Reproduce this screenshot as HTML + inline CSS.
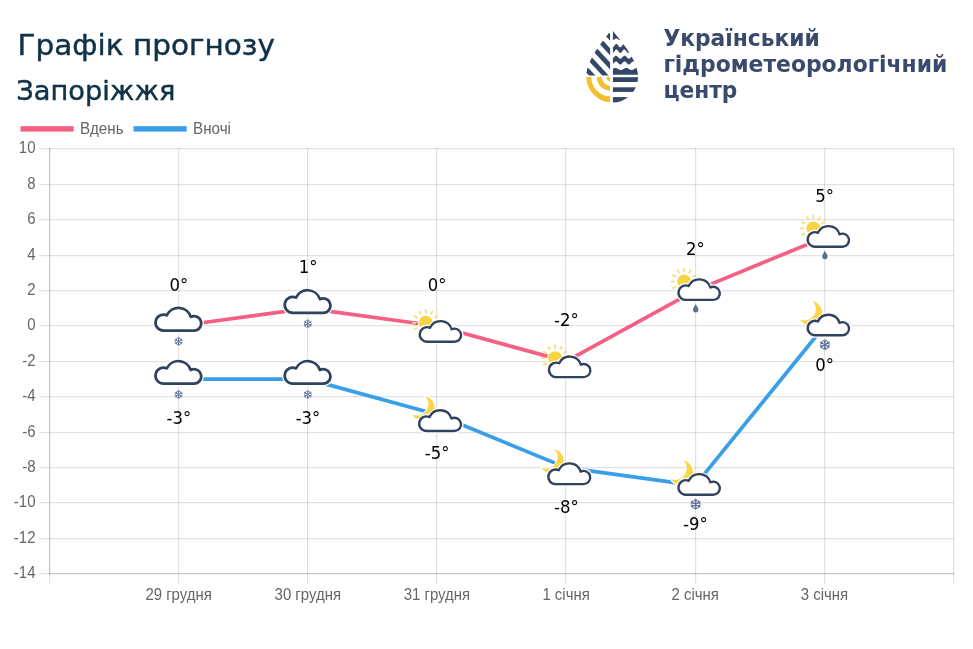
<!DOCTYPE html>
<html lang="uk"><head><meta charset="utf-8"><title>Графік прогнозу</title>
<style>html,body{margin:0;padding:0;background:#fff}body{width:973px;height:649px;position:relative;overflow:hidden}</style></head>
<body>
<svg width="973" height="649" viewBox="0 0 973 649" style="position:absolute;left:0;top:0">
<defs>
<path id="cp" d="M9.30 24.2 A8.0 8.0 0 1 1 12.60 8.91 A12.85 12.85 0 0 1 36.50 10.50 A7.24 7.24 0 1 1 39.76 24.2 Z" stroke-linejoin="round"/>
<g id="cl" fill="#fff"><use href="#cp" stroke="#fff" stroke-width="5.1"/><use href="#cp" stroke="#31425e" stroke-width="2.7"/></g>
<g id="cs" fill="#fff"><use href="#cp" stroke="#fff" stroke-width="5.4"/><use href="#cp" stroke="#31425e" stroke-width="2.6"/></g>
<g id="sn" stroke="#566c98" stroke-width="1.05" stroke-linecap="round" fill="none">
<path d="M0 -4.6V4.6M-4 -2.3L4 2.3M-4 2.3L4 -2.3"/>
<path d="M-1.4 -3.9L0 -2.8L1.4 -3.9M-1.4 3.9L0 2.8L1.4 3.9M-4.1 -0.7L-2.4 -1.4L-2.7 -3.2M4.1 -0.7L2.4 -1.4L2.7 -3.2M-4.1 0.7L-2.4 1.4L-2.7 3.2M4.1 0.7L2.4 1.4L2.7 3.2"/>
</g>
<path id="dr" d="M0 -4.2C1.2 -2.2 2.7 -0.4 2.7 1.4A2.7 2.7 0 0 1 -2.7 1.4C-2.7 -0.4 -1.2 -2.2 0 -4.2Z" fill="#5b6f90"/>
<g id="sun">
<g stroke="#f2df80" stroke-width="1.8" stroke-linecap="round">
<path d="M10.30 -0.00L13.00 -0.00"/><path d="M8.92 -5.15L11.26 -6.50"/><path d="M5.15 -8.92L6.50 -11.26"/><path d="M0.00 -10.30L0.00 -13.00"/><path d="M-5.15 -8.92L-6.50 -11.26"/><path d="M-8.92 -5.15L-11.26 -6.50"/><path d="M-10.30 -0.00L-13.00 -0.00"/><path d="M-8.92 5.15L-11.26 6.50"/><path d="M-5.15 8.92L-6.50 11.26"/><path d="M-0.00 10.30L-0.00 13.00"/><path d="M5.15 8.92L6.50 11.26"/><path d="M8.92 5.15L11.26 6.50"/>
</g>
<circle r="8.1" fill="#fff"/><circle r="7" fill="#f6d443"/>
</g>
<path id="moon" d="M2.8 -11.85A12.2 12.2 0 1 1 -10.2 6.65A11.5 11.5 0 0 0 2.8 -11.85Z" fill="#f9d548" stroke="#fff" stroke-width="2" paint-order="stroke" stroke-linejoin="round"/>
</defs>
<g fill="#000" fill-opacity="0.115"><rect x="39.2" y="148" width="914.9" height="1.216"/><rect x="39.2" y="184" width="914.9" height="1.216"/><rect x="39.2" y="219" width="914.9" height="1.216"/><rect x="39.2" y="255" width="914.9" height="1.216"/><rect x="39.2" y="290" width="914.9" height="1.216"/><rect x="39.2" y="325" width="914.9" height="1.216"/><rect x="39.2" y="361" width="914.9" height="1.216"/><rect x="39.2" y="396" width="914.9" height="1.216"/><rect x="39.2" y="432" width="914.9" height="1.216"/><rect x="39.2" y="467" width="914.9" height="1.216"/><rect x="39.2" y="502" width="914.9" height="1.216"/><rect x="39.2" y="538" width="914.9" height="1.216"/><rect x="39.2" y="573" width="914.9" height="1.216"/><rect x="49" y="148" width="1.216" height="435.8"/><rect x="178" y="148" width="1.216" height="435.8"/><rect x="307" y="148" width="1.216" height="435.8"/><rect x="436" y="148" width="1.216" height="435.8"/><rect x="565" y="148" width="1.216" height="435.8"/><rect x="695" y="148" width="1.216" height="435.8"/><rect x="824" y="148" width="1.216" height="435.8"/><rect x="953" y="148" width="1.216" height="435.8"/></g>
<g fill="#000" fill-opacity="0.13"><rect x="49" y="148" width="1.216" height="426.22"/><rect x="49" y="573" width="905.22" height="1.216"/></g>
<g font-family="'Liberation Sans', Arial, sans-serif" font-size="15.2" fill="#666"><text transform="translate(35.5 153.0) scale(0.985 1.05)" text-anchor="end">10</text><text transform="translate(35.5 189.0) scale(0.985 1.05)" text-anchor="end">8</text><text transform="translate(35.5 224.0) scale(0.985 1.05)" text-anchor="end">6</text><text transform="translate(35.5 260.0) scale(0.985 1.05)" text-anchor="end">4</text><text transform="translate(35.5 295.0) scale(0.985 1.05)" text-anchor="end">2</text><text transform="translate(35.5 330.0) scale(0.985 1.05)" text-anchor="end">0</text><text transform="translate(35.5 366.0) scale(0.985 1.05)" text-anchor="end">-2</text><text transform="translate(35.5 401.0) scale(0.985 1.05)" text-anchor="end">-4</text><text transform="translate(35.5 437.0) scale(0.985 1.05)" text-anchor="end">-6</text><text transform="translate(35.5 472.0) scale(0.985 1.05)" text-anchor="end">-8</text><text transform="translate(35.5 507.0) scale(0.985 1.05)" text-anchor="end">-10</text><text transform="translate(35.5 543.0) scale(0.985 1.05)" text-anchor="end">-12</text><text transform="translate(35.5 578.0) scale(0.985 1.05)" text-anchor="end">-14</text>
<text transform="translate(178.6 600.1) scale(0.985 1.03)" text-anchor="middle">29 грудня</text>
<text transform="translate(307.8 600.1) scale(0.985 1.03)" text-anchor="middle">30 грудня</text>
<text transform="translate(436.9 600.1) scale(0.985 1.03)" text-anchor="middle">31 грудня</text>
<text transform="translate(566.1 600.1) scale(0.985 1.03)" text-anchor="middle">1 січня</text>
<text transform="translate(695.2 600.1) scale(0.985 1.03)" text-anchor="middle">2 січня</text>
<text transform="translate(824.4 600.1) scale(0.985 1.03)" text-anchor="middle">3 січня</text>
<text transform="translate(80 133.7) scale(1 1.05)">Вдень</text><text transform="translate(193 133.7) scale(1 1.05)">Вночі</text>
</g>
<rect x="20.5" y="126.2" width="53.2" height="5.4" fill="#f45f84"/><rect x="133.5" y="126.2" width="53.2" height="5.4" fill="#389fe8"/>
<polyline points="178.6,379.1 307.8,379.1 436.9,414.5 566.1,467.6 695.2,485.4 824.4,326.0" fill="none" stroke="#389fe8" stroke-width="3.7" stroke-linejoin="round"/>
<polyline points="178.6,326.0 307.8,308.3 436.9,326.0 566.1,361.4 695.2,290.6 824.4,237.4" fill="none" stroke="#f45f84" stroke-width="3.7" stroke-linejoin="round"/>
<use href="#cl" x="154.2" y="359.5"/><use href="#sn" transform="translate(178.6 394.5) scale(0.85)"/>
<use href="#cl" x="283.4" y="359.5"/><use href="#sn" transform="translate(307.8 394.5) scale(0.85)"/>
<use href="#moon" x="422.4" y="407.9"/><g transform="translate(418.0 408.9) scale(0.915)"><use href="#cs"/></g>
<use href="#moon" x="551.6" y="461.0"/><g transform="translate(547.2 462.0) scale(0.915)"><use href="#cs"/></g>
<use href="#moon" x="680.7" y="472.2"/><g transform="translate(677.3 472.8) scale(0.905)"><use href="#cs"/></g><use href="#sn" transform="translate(695.7 504.2) scale(1.08)"/>
<use href="#moon" x="809.9" y="312.8"/><g transform="translate(806.5 313.4) scale(0.905)"><use href="#cs"/></g><use href="#sn" transform="translate(824.9 344.8) scale(1.08)"/>
<use href="#cl" x="154.2" y="306.4"/><use href="#sn" transform="translate(178.6 341.4) scale(0.85)"/>
<use href="#cl" x="283.4" y="288.7"/><use href="#sn" transform="translate(307.8 323.7) scale(0.85)"/>
<use href="#sun" x="425.9" y="322.8"/><g transform="translate(418.6 319.8) scale(0.905)"><use href="#cs"/></g>
<use href="#sun" x="555.1" y="358.2"/><g transform="translate(547.8 355.2) scale(0.905)"><use href="#cs"/></g>
<use href="#sun" x="684.2" y="281.6"/><g transform="translate(677.3 278.0) scale(0.905)"><use href="#cs"/></g><use href="#dr" x="695.7" y="308.4"/>
<use href="#sun" x="813.4" y="228.4"/><g transform="translate(806.5 224.8) scale(0.905)"><use href="#cs"/></g><use href="#dr" x="824.9" y="255.2"/>
<g font-family="'DejaVu Sans', 'Liberation Sans', sans-serif" font-size="17" fill="#000" text-anchor="middle">
<text transform="translate(178.8 290.8) scale(0.97 1)">0°</text>
<text transform="translate(178.8 424.0) scale(0.97 1)">-3°</text>
<text transform="translate(308.0 273.1) scale(0.97 1)">1°</text>
<text transform="translate(308.0 424.0) scale(0.97 1)">-3°</text>
<text transform="translate(437.1 290.8) scale(0.97 1)">0°</text>
<text transform="translate(437.1 459.4) scale(0.97 1)">-5°</text>
<text transform="translate(566.3 326.2) scale(0.97 1)">-2°</text>
<text transform="translate(566.3 512.5) scale(0.97 1)">-8°</text>
<text transform="translate(695.4 255.4) scale(0.97 1)">2°</text>
<text transform="translate(695.4 530.3) scale(0.97 1)">-9°</text>
<text transform="translate(824.6 202.2) scale(0.97 1)">5°</text>
<text transform="translate(824.6 370.9) scale(0.97 1)">0°</text>
</g>
<g font-family="'DejaVu Sans', 'Liberation Sans', sans-serif" fill="#0f3248" stroke="#0f3248" stroke-width="0.45" stroke-linejoin="round">
<text x="17.5" y="54.6" font-size="28.8" textLength="257.4" lengthAdjust="spacingAndGlyphs">Графік прогнозу</text>
<text x="16.2" y="100.2" font-size="26.6" textLength="159.2" lengthAdjust="spacingAndGlyphs">Запоріжжя</text>
</g>
<g font-family="'DejaVu Sans', 'Liberation Sans', sans-serif" font-weight="bold" font-size="22.3" fill="#3a4a6c">
<text x="663.4" y="45.9" textLength="156.5" lengthAdjust="spacingAndGlyphs">Український</text>
<text x="663.4" y="72.2" textLength="284" lengthAdjust="spacingAndGlyphs">гідрометеорологічний</text>
<text x="663.4" y="98" textLength="74" lengthAdjust="spacingAndGlyphs">центр</text>
</g>
<clipPath id="dp"><path d="M611.6 29.3C617 37 638.1 58 638.1 77A25.9 25.6 0 0 1 586.3 77C586.3 58 606.6 37 611.6 29.3Z"/></clipPath><clipPath id="q1"><rect x="580" y="25" width="30.100000000000023" height="50.6"/></clipPath><clipPath id="q2"><rect x="580" y="77" width="30.100000000000023" height="30"/></clipPath><clipPath id="q3"><rect x="612.7" y="25" width="30" height="80"/></clipPath><g clip-path="url(#dp)"><g clip-path="url(#q1)" stroke="#344766" stroke-width="4.7" fill="none"><path d="M615.1 42.6L565.1 -11.4"/><path d="M615.1 57.1L565.1 3.1"/><path d="M615.1 71.5L565.1 17.5"/><path d="M615.1 85.9L565.1 31.9"/><path d="M615.1 100.3L565.1 46.3"/><path d="M615.1 114.7L565.1 60.7"/></g><g clip-path="url(#q2)" fill="none" stroke="#f4c02f"><circle cx="610.6" cy="77" r="2.2" stroke-width="4.4"/><circle cx="610.6" cy="77" r="11.3" stroke-width="5"/><circle cx="610.6" cy="77" r="22.3" stroke-width="6"/></g><g clip-path="url(#q3)" fill="#344766"><path d="M612.7 25.0L642.0 25.0L642.0 39.9L641.6 39.7L641.3 39.4L640.9 39.2L640.5 38.9L640.2 38.7L639.8 38.5L639.4 38.4L639.1 38.4L638.7 38.5L638.3 38.6L638.0 38.8L637.6 39.1L637.2 39.3L636.9 39.6L636.5 39.8L636.1 40.0L635.8 40.2L635.4 40.2L635.0 40.2L634.7 40.0L634.3 39.9L633.9 39.6L633.6 39.4L633.2 39.1L632.8 38.8L632.5 38.6L632.1 38.5L631.7 38.4L631.4 38.4L631.0 38.5L630.6 38.7L630.3 38.9L629.9 39.1L629.5 39.4L629.2 39.7L628.8 39.9L628.4 40.1L628.1 40.2L627.7 40.2L627.4 40.1L627.0 40.0L626.6 39.8L626.3 39.6L625.9 39.3L625.5 39.0L625.2 38.8L624.8 38.6L624.4 38.5L624.1 38.4L623.7 38.4L623.3 38.5L623.0 38.7L622.6 38.9L622.2 39.2L621.9 39.5L621.5 39.7L621.1 40.0L620.8 40.1L620.4 40.2L620.0 40.2L619.7 40.1L619.3 40.0L618.9 39.7L618.6 39.5L618.2 39.2L617.8 39.0L617.5 38.7L617.1 38.5L616.7 38.4L616.4 38.4L616.0 38.4L615.6 38.6L615.3 38.8L614.9 39.0L614.5 39.3L614.2 39.5L613.8 39.8L613.4 40.0L613.1 40.1L612.7 40.2Z"/><path d="M612.7 47.3L613.1 47.1L613.4 46.8L613.8 46.5L614.2 46.0L614.5 45.5L614.9 45.0L615.3 44.6L615.6 44.2L616.0 44.0L616.4 43.9L616.7 44.0L617.1 44.2L617.5 44.5L617.8 44.9L618.2 45.4L618.6 45.9L618.9 46.4L619.3 46.8L619.7 47.1L620.0 47.3L620.4 47.3L620.8 47.2L621.1 46.9L621.5 46.6L621.9 46.1L622.2 45.6L622.6 45.1L623.0 44.7L623.3 44.3L623.7 44.0L624.1 43.9L624.4 43.9L624.8 44.1L625.2 44.4L625.5 44.8L625.9 45.2L626.3 45.7L626.6 46.2L627.0 46.7L627.4 47.0L627.7 47.2L628.1 47.3L628.4 47.2L628.8 47.0L629.2 46.7L629.5 46.3L629.9 45.8L630.3 45.3L630.6 44.8L631.0 44.4L631.4 44.1L631.7 43.9L632.1 43.9L632.5 44.0L632.8 44.3L633.2 44.6L633.6 45.1L633.9 45.6L634.3 46.1L634.7 46.5L635.0 46.9L635.4 47.2L635.8 47.3L636.1 47.3L636.5 47.1L636.9 46.8L637.2 46.4L637.6 45.9L638.0 45.4L638.3 44.9L638.7 44.5L639.1 44.2L639.4 44.0L639.8 43.9L640.2 44.0L640.5 44.2L640.9 44.5L641.3 45.0L641.6 45.4L642.0 45.9L642.0 51.5L641.6 51.0L641.3 50.6L640.9 50.1L640.5 49.8L640.2 49.6L639.8 49.5L639.4 49.6L639.1 49.8L638.7 50.1L638.3 50.5L638.0 51.0L637.6 51.5L637.2 52.0L636.9 52.4L636.5 52.7L636.1 52.9L635.8 52.9L635.4 52.8L635.0 52.5L634.7 52.1L634.3 51.7L633.9 51.2L633.6 50.7L633.2 50.2L632.8 49.9L632.5 49.6L632.1 49.5L631.7 49.5L631.4 49.7L631.0 50.0L630.6 50.4L630.3 50.9L629.9 51.4L629.5 51.9L629.2 52.3L628.8 52.6L628.4 52.8L628.1 52.9L627.7 52.8L627.4 52.6L627.0 52.3L626.6 51.8L626.3 51.3L625.9 50.8L625.5 50.4L625.2 50.0L624.8 49.7L624.4 49.5L624.1 49.5L623.7 49.6L623.3 49.9L623.0 50.3L622.6 50.7L622.2 51.2L621.9 51.7L621.5 52.2L621.1 52.5L620.8 52.8L620.4 52.9L620.0 52.9L619.7 52.7L619.3 52.4L618.9 52.0L618.6 51.5L618.2 51.0L617.8 50.5L617.5 50.1L617.1 49.8L616.7 49.6L616.4 49.5L616.0 49.6L615.6 49.8L615.3 50.2L614.9 50.6L614.5 51.1L614.2 51.6L613.8 52.1L613.4 52.4L613.1 52.7L612.7 52.9Z"/><path d="M612.7 58.3L613.1 58.0L613.4 57.7L613.8 57.3L614.2 56.9L614.5 56.5L614.9 56.2L615.3 55.9L615.6 55.8L616.0 55.7L616.4 55.8L616.7 55.9L617.1 56.2L617.5 56.5L617.8 56.8L618.2 57.2L618.6 57.6L618.9 58.0L619.3 58.3L619.7 58.5L620.0 58.7L620.4 58.7L620.8 58.6L621.1 58.4L621.5 58.2L621.9 57.8L622.2 57.4L622.6 57.0L623.0 56.7L623.3 56.3L623.7 56.0L624.1 55.8L624.4 55.7L624.8 55.7L625.2 55.8L625.5 56.0L625.9 56.3L626.3 56.7L626.6 57.1L627.0 57.5L627.4 57.8L627.7 58.2L628.1 58.4L628.4 58.6L628.8 58.7L629.2 58.7L629.5 58.5L629.9 58.3L630.3 58.0L630.6 57.6L631.0 57.2L631.4 56.8L631.7 56.5L632.1 56.2L632.5 55.9L632.8 55.8L633.2 55.7L633.6 55.8L633.9 55.9L634.3 56.2L634.7 56.5L635.0 56.9L635.4 57.3L635.8 57.7L636.1 58.0L636.5 58.3L636.9 58.5L637.2 58.7L637.6 58.7L638.0 58.6L638.3 58.4L638.7 58.2L639.1 57.8L639.4 57.4L639.8 57.0L640.2 56.6L640.5 56.3L640.9 56.0L641.3 55.8L641.6 55.7L642.0 55.7L642.0 61.5L641.6 61.5L641.3 61.6L640.9 61.8L640.5 62.1L640.2 62.4L639.8 62.8L639.4 63.2L639.1 63.6L638.7 64.0L638.3 64.2L638.0 64.4L637.6 64.5L637.2 64.5L636.9 64.3L636.5 64.1L636.1 63.8L635.8 63.5L635.4 63.1L635.0 62.7L634.7 62.3L634.3 62.0L633.9 61.7L633.6 61.6L633.2 61.5L632.8 61.6L632.5 61.7L632.1 62.0L631.7 62.3L631.4 62.6L631.0 63.0L630.6 63.4L630.3 63.8L629.9 64.1L629.5 64.3L629.2 64.5L628.8 64.5L628.4 64.4L628.1 64.2L627.7 64.0L627.4 63.6L627.0 63.3L626.6 62.9L626.3 62.5L625.9 62.1L625.5 61.8L625.2 61.6L624.8 61.5L624.4 61.5L624.1 61.6L623.7 61.8L623.3 62.1L623.0 62.5L622.6 62.8L622.2 63.2L621.9 63.6L621.5 64.0L621.1 64.2L620.8 64.4L620.4 64.5L620.0 64.5L619.7 64.3L619.3 64.1L618.9 63.8L618.6 63.4L618.2 63.0L617.8 62.6L617.5 62.3L617.1 62.0L616.7 61.7L616.4 61.6L616.0 61.5L615.6 61.6L615.3 61.7L614.9 62.0L614.5 62.3L614.2 62.7L613.8 63.1L613.4 63.5L613.1 63.8L612.7 64.1Z"/><path d="M612.7 69.0L613.1 68.8L613.4 68.5L613.8 68.3L614.2 68.2L614.5 68.0L614.9 67.9L615.3 67.9L615.6 67.9L616.0 68.0L616.4 68.1L616.7 68.2L617.1 68.4L617.5 68.6L617.8 68.8L618.2 69.1L618.6 69.3L618.9 69.5L619.3 69.7L619.7 69.9L620.0 70.0L620.4 70.1L620.8 70.1L621.1 70.1L621.5 70.0L621.9 69.9L622.2 69.7L622.6 69.6L623.0 69.3L623.3 69.1L623.7 68.9L624.1 68.7L624.4 68.4L624.8 68.3L625.2 68.1L625.5 68.0L625.9 67.9L626.3 67.9L626.6 67.9L627.0 68.0L627.4 68.1L627.7 68.3L628.1 68.5L628.4 68.7L628.8 68.9L629.2 69.2L629.5 69.4L629.9 69.6L630.3 69.8L630.6 69.9L631.0 70.0L631.4 70.1L631.7 70.1L632.1 70.1L632.5 70.0L632.8 69.8L633.2 69.7L633.6 69.4L633.9 69.2L634.3 69.0L634.7 68.8L635.0 68.5L635.4 68.3L635.8 68.2L636.1 68.0L636.5 67.9L636.9 67.9L637.2 67.9L637.6 68.0L638.0 68.1L638.3 68.2L638.7 68.4L639.1 68.6L639.4 68.8L639.8 69.1L640.2 69.3L640.5 69.5L640.9 69.7L641.3 69.9L641.6 70.0L642.0 70.1L642.0 74.7L612.7 74.7Z"/><rect x="612.7" y="77.2" width="30" height="4.8"/><rect x="612.7" y="87.3" width="30" height="4.6"/><rect x="612.7" y="97.1" width="30" height="6.9"/></g></g>
</svg>
</body></html>
